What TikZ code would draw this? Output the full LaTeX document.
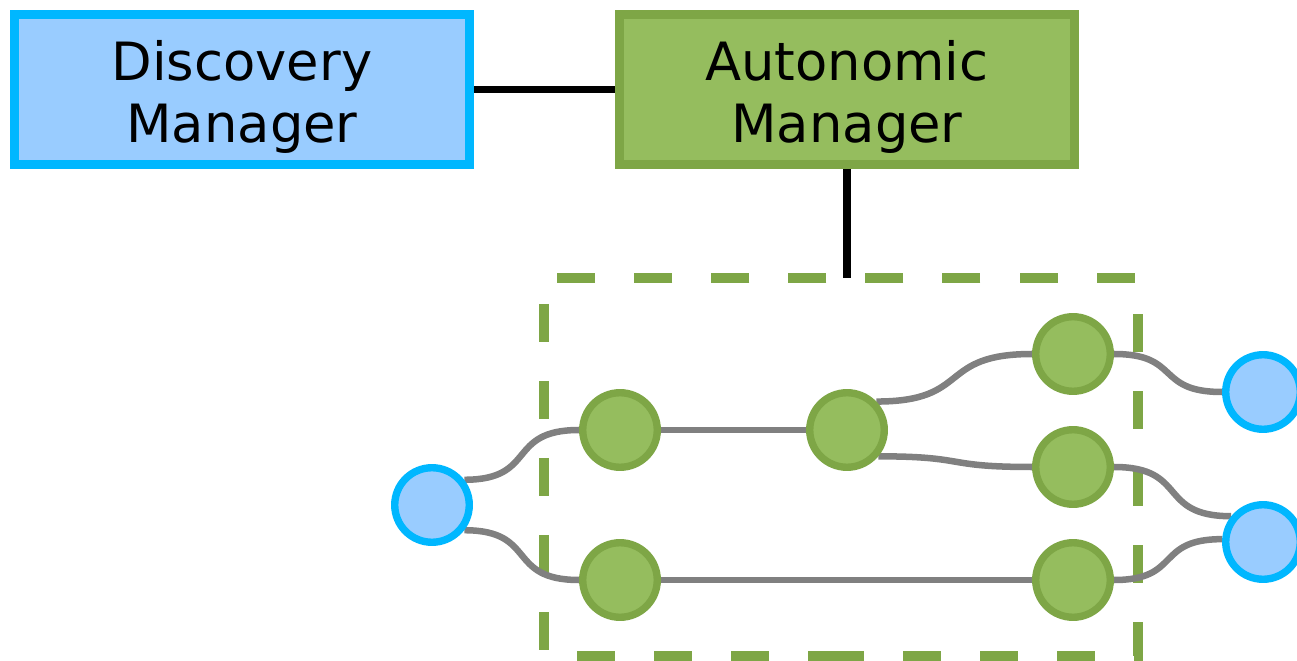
\documentclass[tikz,border=0pt]{standalone}
\usepackage{fontspec}
\setmainfont{DejaVu Sans}
\usetikzlibrary{positioning}

\definecolor{dmblue}{HTML}{00B7FF}
\definecolor{dmfill}{HTML}{99CCFF}
\definecolor{amgreen}{HTML}{7EA646}
\definecolor{amfill}{HTML}{95BD5E}

\pgfdeclarelayer{back}
\pgfsetlayers{back,main}

\begin{document}
\begin{tikzpicture}[
  x=0.01cm, y=-0.01cm, every node/.style={font=\fontsize{15}{17.6}\selectfont},
  mgr/.style={rectangle, line width=2.56pt, minimum width=4.55cm, minimum height=1.5cm,
              align=center, inner sep=0pt},
  dmgr/.style={mgr, draw=dmblue, fill=dmfill},
  amgr/.style={mgr, draw=amgreen, fill=amfill},
  peer/.style={circle, line width=2.1pt, minimum size=7.45mm, inner sep=0pt},
  loc/.style={peer, draw=amgreen, fill=amfill},
  ext/.style={peer, draw=dmblue, fill=dmfill},
  link/.style={line width=2pt, black},
  wire/.style={line width=1.85pt, black!50, looseness=1.5},
  zone/.style={line width=3.1pt, amgreen, dash pattern=on 10.81pt off 11.1pt},
]
\useasboundingbox (0,0) rectangle (1297,661);
% ---------------- managers ----------------
\node[dmgr] (dm) at (242,89.5) {\rule{0pt}{0.55cm}Discovery\\Manager};
\node[amgr] (am) at (847,89.5) {\rule{0pt}{0.55cm}Autonomic\\Manager};
% ---------------- managed peers ----------------
\node[loc] (p1) at (620,430) {};
\node[loc] (p2) at (847,430) {};
\node[loc] (p3) at (1073,354) {};
\node[loc] (p4) at (1073,467) {};
\node[loc] (p5) at (620,580) {};
\node[loc] (p6) at (1073,580) {};
% ---------------- outside peers ----------------
\node[ext] (x0) at (432,505) {};
\node[ext] (x1) at (1263,392) {};
\node[ext] (x2) at (1263,542) {};
\begin{pgfonlayer}{back}
  % managed zone
  \draw[zone] (826,656) -- (1138,656) -- (1138,278) -- (544,278) -- (544,656) -- cycle;
  \coordinate (ztop) at (847,278);
  \draw[link] (dm) -- (am);
  \draw[link] (am) -- (ztop);
  % overlay links
  \draw[wire] (x0.38) to[out=0,in=180] (p1.west);
  \draw[wire] (x0.-38) to[out=0,in=180] (p5.west);
  \draw[wire] (p1) -- (p2);
  \draw[wire] (p5) -- (p6);
  \draw[wire] (p2.44) to[out=0,in=180] (p3.west);
  \draw[wire] (p2.-40) to[out=0,in=180] (p4.west);
  \draw[wire] (p3.east) to[out=0,in=180] (x1.west);
  \draw[wire] (p4.east) to[out=0,in=180] (x2.141);
  \draw[wire] (p6.east) to[out=0,in=180] (x2.176);
\end{pgfonlayer}
\end{tikzpicture}
\end{document}
